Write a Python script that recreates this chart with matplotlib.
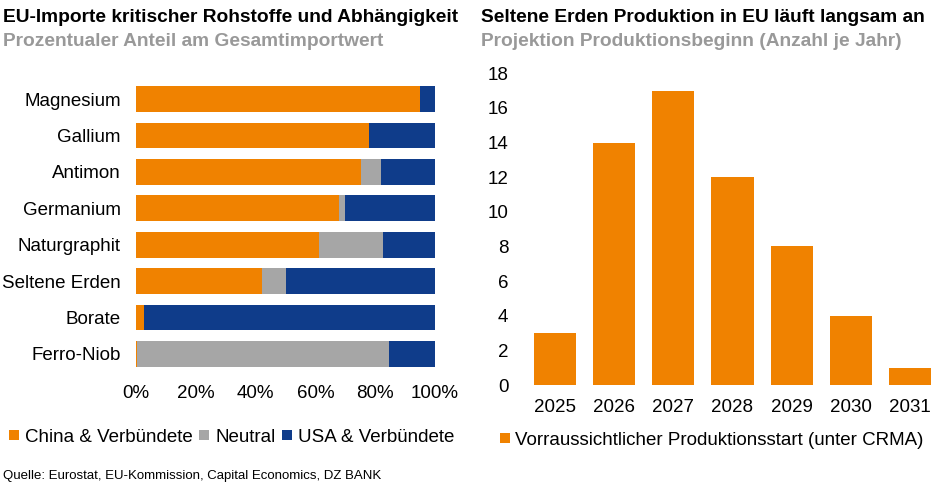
import matplotlib
matplotlib.use("Agg")
import matplotlib.pyplot as plt
from matplotlib.lines import Line2D
import numpy as np

plt.rcParams['font.family'] = ['Liberation Sans', 'DejaVu Sans']

# Daten links: Anteile am Importwert (%)
rohstoffe = ["Magnesium", "Gallium", "Antimon", "Germanium", "Naturgraphit",
             "Seltene Erden", "Borate", "Ferro-Niob"]
china = [95, 78, 75.3, 68, 61.3, 42, 2.6, 0.3]
neutral = [0, 0, 6.6, 1.9, 21.4, 8.3, 0, 84.2]
usa = [5, 22, 18.1, 30.1, 17.3, 49.7, 97.4, 15.5]
xticks_links = [0, 20, 40, 60, 80, 100]

# Daten rechts: Projekte nach Produktionsbeginn
jahre = ["2025", "2026", "2027", "2028", "2029", "2030", "2031"]
anzahl = [3, 14, 17, 12, 8, 4, 1]
yticks_rechts = [0, 2, 4, 6, 8, 10, 12, 14, 16, 18]

ORANGE = "#F08200"
GRAU = "#A6A6A6"
BLAU = "#0F3C8A"
FS = 13.5

W, H = 941, 493
fig = plt.figure(figsize=(W / 100, H / 100), dpi=100)

def box(l, t, r, b):
    return [l / W, 1 - b / H, (r - l) / W, (b - t) / H]

# linkes Diagramm
ax1 = fig.add_axes(box(136, 81, 435, 372))
y = np.arange(len(rohstoffe))
left = np.zeros(len(rohstoffe))
for werte, farbe in [(china, ORANGE), (neutral, GRAU), (usa, BLAU)]:
    ax1.barh(y, werte, left=left, height=0.71, color=farbe, linewidth=0)
    left = left + np.array(werte)
ax1.set_ylim(len(rohstoffe) - 0.5, -0.5)
ax1.set_xlim(0, 100)
ax1.set_yticks(y)
ax1.set_yticklabels(rohstoffe, fontsize=FS)
ax1.set_xticks(xticks_links)
ax1.set_xticklabels([f"{v}%" for v in xticks_links], fontsize=FS)
ax1.tick_params(length=0)
ax1.tick_params(axis='y', pad=11)
ax1.tick_params(axis='x', pad=9.5)
for s in ax1.spines.values():
    s.set_visible(False)

# rechtes Diagramm
ax2 = fig.add_axes(box(525, 73.3, 940, 385))
x = np.arange(len(jahre))
ax2.bar(x, anzahl, width=0.71, color=ORANGE, linewidth=0)
ax2.set_xlim(-0.5, len(jahre) - 0.5)
ax2.set_ylim(0, 18)
ax2.set_xticks(x)
ax2.set_xticklabels(jahre, fontsize=FS)
ax2.set_yticks(yticks_rechts)
ax2.set_yticklabels([str(v) for v in yticks_rechts], fontsize=FS)
ax2.tick_params(length=0)
ax2.tick_params(axis='y', pad=12)
ax2.tick_params(axis='x', pad=10)
for s in ax2.spines.values():
    s.set_visible(False)

# Titel
TS = 13.8
fig.text(3 / W, 1 - 17 / H, "EU-Importe kritischer Rohstoffe und Abhängigkeit",
         fontsize=TS, fontweight='bold', va='center', ha='left')
fig.text(3 / W, 1 - 41 / H, "Prozentualer Anteil am Gesamtimportwert",
         fontsize=TS, fontweight='bold', color="#999999", va='center', ha='left')
fig.text(481 / W, 1 - 17 / H, "Seltene Erden Produktion in EU läuft langsam an",
         fontsize=TS, fontweight='bold', va='center', ha='left')
fig.text(481 / W, 1 - 41 / H, "Projektion Produktionsbeginn (Anzahl je Jahr)",
         fontsize=TS, fontweight='bold', color="#999999", va='center', ha='left')

# Legenden
def sq(c):
    return Line2D([], [], marker='s', linestyle='none', markersize=7,
                  markerfacecolor=c, markeredgewidth=0)

fig.legend([sq(ORANGE), sq(GRAU), sq(BLAU)],
           ["China & Verbündete", "Neutral", "USA & Verbündete"],
           loc='center left', bbox_to_anchor=(9 / W, 1 - 437 / H), ncol=3,
           frameon=False, fontsize=FS, handlelength=0.5, handletextpad=0.35,
           columnspacing=0.35, borderpad=0, borderaxespad=0)
fig.legend([sq(ORANGE)], ["Vorraussichtlicher Produktionsstart (unter CRMA)"],
           loc='center left', bbox_to_anchor=(500 / W, 1 - 440 / H),
           frameon=False, fontsize=FS, handlelength=0.5, handletextpad=0.3,
           borderpad=0, borderaxespad=0)

fig.text(3 / W, 1 - 476 / H, "Quelle: Eurostat, EU-Kommission, Capital Economics, DZ BANK",
         fontsize=9.5, va='center', ha='left')

fig.savefig("out.png", dpi=100)
